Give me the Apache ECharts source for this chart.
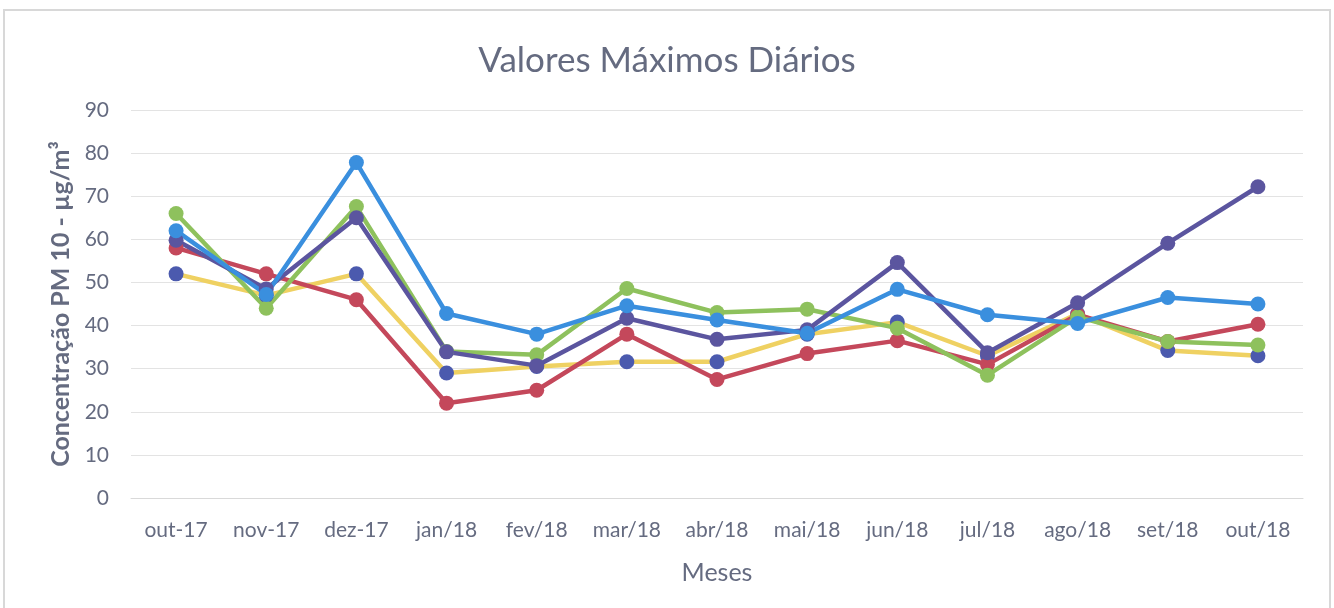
<!DOCTYPE html>
<html>
<head>
<meta charset="utf-8">
<script src="https://cdn.jsdelivr.net/npm/echarts@6/dist/echarts.min.js"></script>
<style>html,body{margin:0;padding:0;background:#fff}#c{width:1334px;height:608px}</style>
</head>
<body>
<div id="c"></div>
<script>
var categories = ['out-17','nov-17','dez-17','jan/18','fev/18','mar/18','abr/18','mai/18','jun/18','jul/18','ago/18','set/18','out/18'];
var yTicks = [0,10,20,30,40,50,60,70,80,90];
var redValues    = [58, 52, 46, 22, 25, 38, 27.5, 33.5, 36.5, 31, 42.5, 36.3, 40.3];
var yellowValues = [52, 47, 52, 29, 30.5, 31.6, 31.6, 38, 40.8, 33, 42.7, 34.2, 33];
var greenValues  = [66, 44, 67.6, 34, 33.2, 48.6, 43, 43.8, 39.4, 28.5, 42, 36.3, 35.5];
var purpleValues = [59.8, 48.5, 65, 33.9, 30.7, 41.7, 36.8, 39, 54.6, 33.7, 45.3, 59.1, 72.2];
var blueValues   = [62, 47.2, 77.8, 42.8, 38, 44.6, 41.3, 38.2, 48.4, 42.5, 40.5, 46.5, 45];

var txt = '#656b80';
var font = 'Lato, "Open Sans", sans-serif';
function s(name, data, line, marker){
  return {name:name, type:'line', data:data, symbol:'circle', symbolSize:15,
    lineStyle:{width:4.5, color:line}, itemStyle:{color:marker}, emphasis:{disabled:true}};
}
var chart = echarts.init(document.getElementById('c'));
chart.setOption({
  animation:false,
  backgroundColor:'#fff',
  graphic:[{type:'rect', shape:{x:4, y:10, width:1326, height:610}, style:{fill:'none', stroke:'#d8d8d8', lineWidth:2}}],
  title:{text:'Valores Máximos Diários', left:'center', top:38,
    textStyle:{fontFamily:font, fontSize:35, fontWeight:'normal', color:txt}},
  grid:{left:131, right:31, top:110, bottom:110},
  xAxis:{type:'category', data:categories, boundaryGap:true,
    name:'Meses', nameLocation:'middle', nameGap:62,
    nameTextStyle:{fontFamily:font, fontSize:25, color:txt},
    axisLine:{lineStyle:{color:'#d9d9d9'}}, axisTick:{show:false},
    axisLabel:{fontFamily:font, fontSize:21, color:txt, margin:22, interval:0}},
  yAxis:{type:'value', min:yTicks[0], max:yTicks[yTicks.length-1], interval:10,
    name:'Concentração PM 10 - µg/m³', nameLocation:'middle', nameGap:58,
    nameTextStyle:{fontFamily:font, fontSize:25, fontWeight:'bold', color:txt},
    axisLine:{show:false}, axisTick:{show:false},
    splitLine:{lineStyle:{color:'#e3e3e3', width:1}},
    axisLabel:{fontFamily:font, fontSize:21, color:txt, margin:22}},
  series:[
    s('Série 1', yellowValues, '#EFD162', '#4B5AAE'),
    s('Série 2', redValues, '#C4485B', '#C4485B'),
    s('Série 3', greenValues, '#8EC15D', '#8EC15D'),
    s('Série 4', purpleValues, '#5B559F', '#5B559F'),
    s('Série 5', blueValues, '#3A8FDE', '#3A8FDE')
  ]
});
</script>
</body>
</html>
